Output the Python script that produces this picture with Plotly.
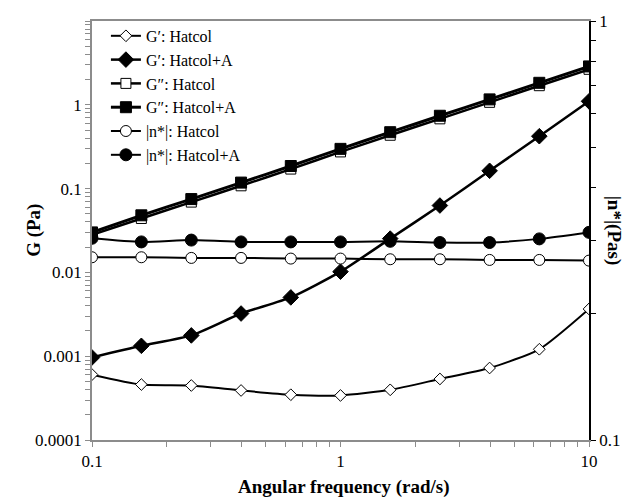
import plotly.graph_objects as go

# Angular frequency (rad/s)
omega = [0.1, 0.158, 0.251, 0.398, 0.631, 1.0, 1.585, 2.512, 3.981, 6.31, 10.0]

# Storage modulus G' (Pa)
g1_hatcol = [0.000603, 0.000459, 0.000447, 0.00039, 0.000347, 0.00034,
             0.000397, 0.000535, 0.000723, 0.00121, 0.00366]
g1_hatcol_a = [0.000966, 0.00133, 0.00177, 0.00323, 0.00503, 0.0102,
               0.0253, 0.0628, 0.163, 0.422, 1.1]

# Loss modulus G'' (Pa)
g2_hatcol = [0.028, 0.044, 0.069, 0.108, 0.171, 0.274, 0.433, 0.68, 1.07, 1.69, 2.65]
g2_hatcol_a = [0.030, 0.048, 0.075, 0.118, 0.186, 0.298, 0.471, 0.74, 1.16, 1.83, 2.87]

# Complex viscosity |n*| (Pa s), right axis
eta_hatcol = [0.273, 0.273, 0.272, 0.272, 0.271, 0.271, 0.270, 0.270, 0.269, 0.269, 0.268]
eta_hatcol_a = [0.303, 0.297, 0.300, 0.297, 0.297, 0.297, 0.298, 0.296, 0.296, 0.302, 0.313]

x_ticks = [0.1, 1, 10]
left_ticks = [0.0001, 0.001, 0.01, 0.1, 1]
right_ticks = [0.1, 1]

FONT = "Liberation Serif"
GREY = "#8c8c8c"


def log_ticks(lo_exp, hi_exp, labelled):
    vals, text = [], []
    for e in range(lo_exp, hi_exp):
        for m in range(1, 10):
            v = round(m * 10 ** e, 10)
            vals.append(v)
            text.append(next((f"{t:g}" for t in labelled if abs(t - v) < 1e-12), ""))
    v = round(10 ** hi_exp, 10)
    vals.append(v)
    text.append(next((f"{t:g}" for t in labelled if abs(t - v) < 1e-12), ""))
    return vals, text


series = [
    ("G′: Hatcol", g1_hatcol, "diamond", "white", 9, 2, "y"),
    ("G′: Hatcol+A", g1_hatcol_a, "diamond", "black", 12, 2.5, "y"),
    ("G″: Hatcol", g2_hatcol, "square", "white", 10, 2.5, "y"),
    ("G″: Hatcol+A", g2_hatcol_a, "square", "black", 11, 3, "y"),
    ("|n*|: Hatcol", eta_hatcol, "circle", "white", 11, 2, "y2"),
    ("|n*|: Hatcol+A", eta_hatcol_a, "circle", "black", 12, 2, "y2"),
]

fig = go.Figure()
for i, (name, vals, sym, fill, size, lw, ax) in enumerate(series):
    fig.add_trace(go.Scatter(
        x=omega, y=vals, name=name, yaxis=ax, legendgroup=f"g{i}",
        mode="lines+markers",
        line=dict(color="black", width=lw, shape="spline", smoothing=0.6),
        marker=dict(symbol=sym, size=size, color=fill,
                    line=dict(color="black", width=1)),
    ))

xv, xt = log_ticks(-1, 1, x_ticks)
lv, lt = log_ticks(-4, 1, left_ticks)
rv, rt = log_ticks(-1, 0, right_ticks)

fig.update_layout(
    width=632, height=500,
    margin=dict(l=92, r=40, t=17, b=60),
    paper_bgcolor="white", plot_bgcolor="white",
    font=dict(family=FONT, size=17, color="black"),
    showlegend=True,
    legend=dict(x=0.028, y=1.005, xanchor="left", yanchor="top",
                bgcolor="rgba(0,0,0,0)", traceorder="grouped",
                tracegroupgap=0, font=dict(family=FONT, size=16),
                itemwidth=30),
    xaxis=dict(type="log", range=[-1, 1], tickvals=xv, ticktext=xt,
               ticks="outside", ticklen=5, tickcolor=GREY,
               showline=True, linecolor=GREY, linewidth=1.5, mirror=True,
               showgrid=False, zeroline=False),
    yaxis=dict(type="log", range=[-4, 1], tickvals=lv, ticktext=lt,
               ticks="outside", ticklen=5, tickcolor=GREY,
               showline=True, linecolor=GREY, linewidth=1.5,
               showgrid=False, zeroline=False),
    yaxis2=dict(type="log", range=[-1, 0], tickvals=rv, ticktext=rt,
                overlaying="y", side="right",
                ticks="outside", ticklen=5, tickcolor="black",
                showline=True, linecolor="black", linewidth=1.5,
                showgrid=False, zeroline=False),
    annotations=[
        dict(text="<b>G (Pa)</b>", xref="paper", yref="paper",
             x=-0.118, y=0.5, xanchor="center", yanchor="middle",
             textangle=-90, showarrow=False,
             font=dict(family=FONT, size=19)),
        dict(text="<b>Angular frequency (rad/s)</b>", xref="paper", yref="paper",
             x=0.506, y=-0.111, xanchor="center", yanchor="middle",
             showarrow=False, font=dict(family=FONT, size=19)),
        dict(text="<b>|n*|(Pas)</b>", xref="paper", yref="paper",
             x=1.052, y=0.5, xanchor="center", yanchor="middle",
             textangle=90, showarrow=False,
             font=dict(family=FONT, size=19)),
    ],
)

fig.write_html("out.html")
